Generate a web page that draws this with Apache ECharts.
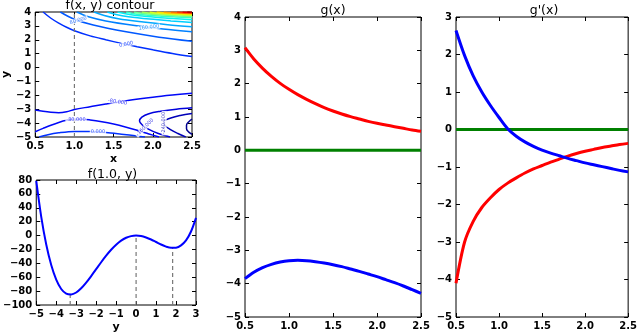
<!DOCTYPE html>
<html>
<head>
<meta charset="utf-8">
<script src="https://cdn.jsdelivr.net/npm/echarts@6/dist/echarts.min.js"></script>
<style>
  html, body { margin: 0; padding: 0; background: #fff; }
  #main { width: 640px; height: 334px; }
</style>
</head>
<body>
<div id="main"></div>
<script>
// ---- data ----
// g(x) and g'(x), sampled on x
const gX = [0.5, 0.6, 0.7, 0.8, 0.9, 1.0, 1.1, 1.2, 1.3, 1.4, 1.5, 1.6, 1.7, 1.8, 1.9, 2.0, 2.1, 2.2, 2.3, 2.4, 2.5]
const gRed = [3.08, 2.74, 2.46, 2.22, 2.01, 1.83, 1.67, 1.53, 1.40, 1.28, 1.18, 1.09, 1.01, 0.94, 0.87, 0.81, 0.76, 0.71, 0.66, 0.61, 0.57]
const gBlue = [-3.85, -3.66, -3.52, -3.42, -3.35, -3.31, -3.30, -3.31, -3.34, -3.38, -3.43, -3.49, -3.56, -3.63, -3.71, -3.79, -3.88, -3.97, -4.07, -4.18, -4.29]
const dgRed = [-4.1, -3.0, -2.45, -2.08, -1.82, -1.6, -1.43, -1.29, -1.16, -1.05, -0.96, -0.87, -0.79, -0.71, -0.64, -0.58, -0.53, -0.48, -0.44, -0.40, -0.37]
const dgBlue = [2.64, 1.97, 1.43, 1.0, 0.64, 0.32, 0.02, -0.18, -0.33, -0.45, -0.55, -0.63, -0.70, -0.77, -0.83, -0.89, -0.94, -0.99, -1.04, -1.09, -1.13]
const zeroX = [0.5, 2.5]
const zeroY = [0, 0]

// f(1.0, y)
const fY = [-5, -4.75, -4.5, -4.25, -4, -3.75, -3.5, -3.25, -3, -2.75, -2.5, -2.25, -2, -1.75, -1.5, -1.25, -1,
  -0.75, -0.5, -0.25, 0, 0.25, 0.5, 0.75, 1, 1.25, 1.5, 1.75, 2, 2.25, 2.5, 2.75, 3]
const fVal = [78.8, 27.0, -12.9, -42.5, -63.5, -77.0, -83.6, -84.8, -82.0, -76.0, -67.8, -58.3, -48.4, -38.4, -29.0, -20.5, -13.2,
  -7.4, -3.2, -0.8, 0, -0.7, -2.8, -5.7, -9.3, -12.9, -15.9, -17.6, -17.4, -14.2, -7.0, 5.8, 25.5]
// critical points marked with dashed lines
const critY = [-3.3, 0, 1.83]
const critF = [-85, 0, -17.6]
const sliceX = 1.0

// contour levels of f(x, y) and their traced paths [x, y]
const contourLevels = [-320, -240, -160, -80, -80, 0, 0, 80, 160, 240, 320, 400, 480, 560, 640, 720, 800, 880, 960, 1040, 1120, 1200]
const contourPaths = [
  [[2.5, -3.72], [2.46, -3.9], [2.43, -4.15], [2.43, -4.4], [2.46, -4.65], [2.5, -4.8]],
  [[2.5, -3.3], [2.35, -3.45], [2.22, -3.65], [2.14, -3.9], [2.15, -4.15], [2.22, -4.45], [2.32, -4.75], [2.42, -5.0]],
  [[2.5, -2.9], [2.3, -3.0], [2.1, -3.15], [1.95, -3.32], [1.86, -3.57], [1.83, -3.85], [1.87, -4.15], [1.95, -4.45], [2.07, -4.75], [2.22, -5.0]],
  [[0.5, -3.05], [0.6, -3.15], [0.7, -3.22], [0.8, -3.25], [0.9, -3.18], [1.0, -3.02], [1.2, -2.82], [1.4, -2.62], [1.7, -2.35], [2.0, -2.13], [2.25, -1.98], [2.5, -1.85]],
  [[0.5, -4.62], [0.6, -4.38], [0.7, -4.15], [0.8, -3.95], [0.9, -3.8], [1.0, -3.72], [1.1, -3.72], [1.2, -3.77], [1.35, -3.9], [1.5, -4.07], [1.65, -4.28], [1.8, -4.52], [1.95, -4.78], [2.08, -5.0]],
  [[0.55, -5.0], [0.65, -4.85], [0.8, -4.7], [1.0, -4.6], [1.2, -4.6], [1.4, -4.68], [1.6, -4.8], [1.8, -4.93], [1.9, -5.0]],
  [[0.6, 4], [0.7, 3.55], [0.8, 3.2], [0.9, 2.9], [1.0, 2.65], [1.2, 2.28], [1.4, 2.0], [1.6, 1.74], [1.8, 1.5], [2.0, 1.28], [2.25, 1.02], [2.5, 0.79]],
  [[0.82, 4], [0.99, 3.5], [1.24, 3.06], [1.66, 2.57], [2.08, 2.19], [2.5, 1.9]],
  [[1.03, 4], [1.18, 3.66], [1.4, 3.36], [1.77, 3.03], [2.13, 2.78], [2.5, 2.58]],
  [[1.25, 4], [1.38, 3.75], [1.56, 3.52], [1.88, 3.28], [2.19, 3.09], [2.5, 2.94]],
  [[1.42, 4], [1.53, 3.82], [1.69, 3.66], [1.96, 3.49], [2.23, 3.36], [2.5, 3.25]],
  [[1.55, 4], [1.65, 3.87], [1.79, 3.75], [2.03, 3.63], [2.26, 3.53], [2.5, 3.45]],
  [[1.66, 4], [1.74, 3.9], [1.87, 3.81], [2.08, 3.71], [2.29, 3.64], [2.5, 3.58]],
  [[1.76, 4], [1.83, 3.92], [1.95, 3.85], [2.13, 3.78], [2.32, 3.72], [2.5, 3.67]],
  [[1.86, 4], [1.92, 3.94], [2.02, 3.88], [2.18, 3.82], [2.34, 3.78], [2.5, 3.74]],
  [[1.96, 4], [2.01, 3.95], [2.1, 3.91], [2.23, 3.86], [2.37, 3.83], [2.5, 3.8]],
  [[2.05, 4], [2.1, 3.96], [2.16, 3.93], [2.28, 3.9], [2.39, 3.87], [2.5, 3.85]],
  [[2.14, 4], [2.23, 3.95], [2.32, 3.925], [2.41, 3.905], [2.5, 3.89]],
  [[2.23, 4], [2.3, 3.964], [2.37, 3.946], [2.5, 3.92]],
  [[2.31, 4], [2.4, 3.966], [2.5, 3.95]],
  [[2.38, 4], [2.44, 3.98], [2.5, 3.97]],
  [[2.44, 4], [2.5, 3.985]]
]
// inline contour labels: text, position [x, y]
const contourLabelText = ['80.000', '160.000', '0.000', '-80.000', '-80.000', '0.000', '-160.000', '-240.000']
const contourLabelPos = [[1.05, 3.4], [1.95, 2.9], [1.66, 1.67], [1.55, -2.48], [1.02, -3.72], [1.3, -4.63], [1.9, -4.3], [2.145, -4.0]]
const contourLabelLevel = [80, 160, 0, -80, -80, 0, -160, -240]

// ---- styles ----
const FONT = 'DejaVu Sans'
const levelColor = {
  '-320': '#000090', '-240': '#0000b8', '-160': '#0000dd', '-80': '#0008f8', '0': '#0030ff',
  '80': '#0058ff', '160': '#0080ff', '240': '#00a8ff', '320': '#00d0ff', '400': '#08f0f0',
  '480': '#30ffc8', '560': '#68ff90', '640': '#a0ff58', '720': '#d8ff20', '800': '#ffe000',
  '880': '#ffaa00', '960': '#ff7000', '1040': '#ff3800', '1120': '#f00000', '1200': '#b00000'
}
const labelRotate = [17, 7, 12, -9, 0, 0, 45, 90]

const minus = s => String(s).replace('-', '\u2212')
const fmt1 = v => minus(v.toFixed(1))
const fmt0 = v => minus(String(Math.round(v)))

const grids = [
  { left: 28, top: 12, width: 164, height: 125 },
  { left: 29, top: 180, width: 167, height: 130 },
  { left: 245, top: 17, width: 176, height: 300 },
  { left: 456, top: 17, width: 176, height: 300 }
]
grids.forEach(g => { g.show = true; g.borderColor = '#000'; g.borderWidth = 1; g.backgroundColor = 'transparent' })

const tickStyle = { show: true, inside: true, length: 4, lineStyle: { color: '#000', width: 1 } }
const labelStyle = { color: '#000', fontFamily: FONT, fontWeight: 'bold', fontSize: 10, margin: 4, showMinLabel: true, showMaxLabel: true }
const nameStyle = { color: '#000', fontFamily: FONT, fontWeight: 'bold', fontSize: 11 }

function makeAxis(gi, min, max, interval, fmt, mirror, name, nameGap, isY) {
  return {
    type: 'value', gridIndex: gi, min: min, max: max, interval: interval,
    position: isY ? (mirror ? 'right' : 'left') : (mirror ? 'top' : 'bottom'),
    name: name || '', nameLocation: 'middle', nameGap: nameGap || 0, nameRotate: isY ? 90 : 0,
    nameTextStyle: nameStyle,
    axisLine: { show: false, onZero: false },
    splitLine: { show: false },
    axisTick: tickStyle,
    axisLabel: Object.assign({ show: !mirror, formatter: fmt }, labelStyle)
  }
}

const xSpec = [[0.5, 2.5, 0.5, fmt1, 'x', 17], [-5, 3, 1, fmt0, 'y', 17], [0.5, 2.5, 0.5, fmt1], [0.5, 2.5, 0.5, fmt1]]
const ySpec = [[-5, 4, 1, fmt0, 'y', 19], [-100, 80, 20, fmt0], [-5, 4, 1, fmt0], [-5, 3, 1, fmt0]]
const xAxes = [], yAxes = []
;[false, true].forEach(mirror => {
  xSpec.forEach((s, i) => xAxes.push(makeAxis(i, s[0], s[1], s[2], s[3], mirror, mirror ? '' : s[4], s[5], false)))
  ySpec.forEach((s, i) => yAxes.push(makeAxis(i, s[0], s[1], s[2], s[3], mirror, mirror ? '' : s[4], s[5], true)))
})

const zip = (xs, ys) => xs.map((x, i) => [x, ys[i]])
function lineSeries(gi, data, color, width, extra) {
  return Object.assign({
    type: 'line', xAxisIndex: gi, yAxisIndex: gi, data: data, showSymbol: false, symbol: 'none',
    smooth: false, lineStyle: { color: color, width: width }, silent: true, animation: false
  }, extra || {})
}

const series = []
// contours
contourPaths.forEach((p, i) => {
  series.push(lineSeries(0, p, levelColor[String(contourLevels[i])], 1.5, { smooth: 0.35 }))
})
// inline contour labels
series.push({
  type: 'scatter', xAxisIndex: 0, yAxisIndex: 0, symbolSize: 0, silent: true, animation: false, z: 5,
  data: contourLabelPos.map((p, i) => ({
    value: p,
    label: {
      show: true, position: 'inside', rotate: labelRotate[i], formatter: contourLabelText[i],
      fontSize: 5, fontFamily: FONT, color: levelColor[String(contourLabelLevel[i])],
      backgroundColor: '#fff', padding: [0, 1]
    }
  }))
})
// dashed slice at x = 1.0
series.push(lineSeries(0, [[sliceX, -5], [sliceX, 4]], '#777', 1.2, { lineStyle: { color: '#777', width: 1.2, type: [4, 3] } }))
// f(1.0, y)
critY.forEach((y, i) => {
  series.push(lineSeries(1, [[y, -100], [y, critF[i]]], '#777', 1.2, { lineStyle: { color: '#777', width: 1.2, type: [4, 3] } }))
})
series.push(lineSeries(1, zip(fY, fVal), '#0000ff', 2, { smooth: 0.3 }))
// g(x)
series.push(lineSeries(2, zip(gX, gRed), '#ff0000', 3, { smooth: 0.3 }))
series.push(lineSeries(2, zip(zeroX, zeroY), '#008000', 3))
series.push(lineSeries(2, zip(gX, gBlue), '#0000ff', 3, { smooth: 0.3 }))
// g'(x)
series.push(lineSeries(3, zip(gX, dgRed), '#ff0000', 3, { smooth: 0.3 }))
series.push(lineSeries(3, zip(zeroX, zeroY), '#008000', 3))
series.push(lineSeries(3, zip(gX, dgBlue), '#0000ff', 3, { smooth: 0.3 }))

const titles = [
  { text: 'f(x, y) contour', x: 110, y: 5.5 },
  { text: 'f(1.0, y)', x: 112.5, y: 175 },
  { text: 'g(x)', x: 333, y: 10.5 },
  { text: "g'(x)", x: 544, y: 11 }
]

const chart = echarts.init(document.getElementById('main'), null, { renderer: 'canvas' })
chart.setOption({
  animation: false,
  backgroundColor: '#fff',
  grid: grids,
  xAxis: xAxes,
  yAxis: yAxes,
  series: series,
  graphic: titles.map(t => ({
    type: 'text', x: t.x, y: t.y, silent: true,
    style: { text: t.text, fill: '#000', font: '12.5px "DejaVu Sans"', align: 'center', verticalAlign: 'middle' }
  }))
})
</script>
</body>
</html>
